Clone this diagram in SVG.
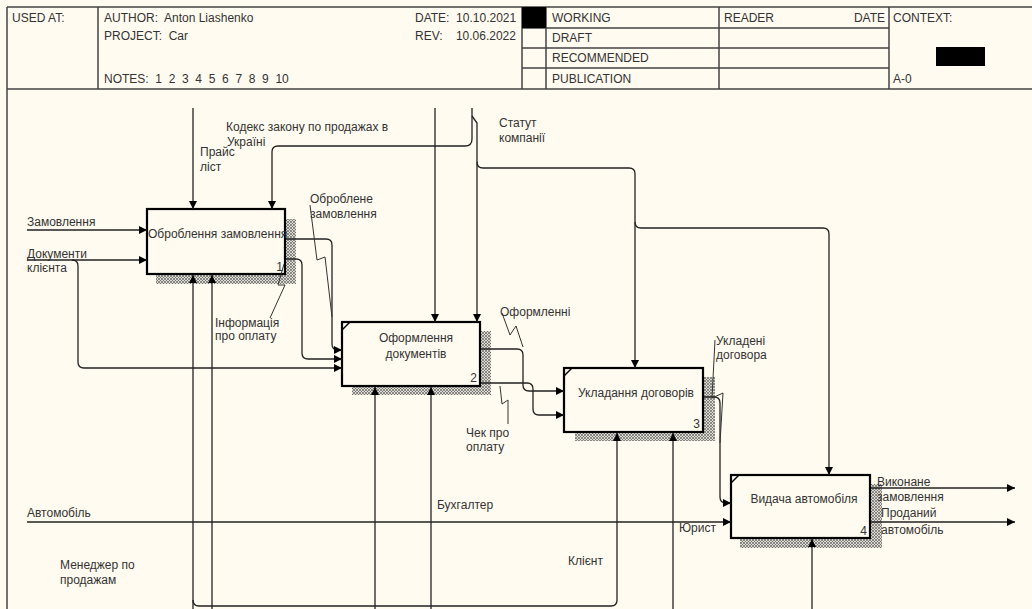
<svg xmlns="http://www.w3.org/2000/svg" width="1032" height="609" viewBox="0 0 1032 609">
<style>
.t{font-family:"Liberation Sans",Arial,sans-serif;font-size:12px;fill:#333}
.hl{fill:none;stroke:#444;stroke-width:1.5}
.box{fill:#fffbf0;stroke:#000;stroke-width:2.2}
.arr{fill:none;stroke:#222;stroke-width:1.3;marker-end:url(#ah)}
.sq{fill:none;stroke:#333;stroke-width:1}
.sh{fill:url(#hatch);stroke:none}
.mk{fill:none;stroke:#000;stroke-width:1.5}
</style>
<defs>
<marker id="ah" markerWidth="9" markerHeight="8" refX="8" refY="4" orient="auto" markerUnits="userSpaceOnUse">
<path d="M0,0 L8,4 L0,8 z" fill="#000"/>
</marker>
<pattern id="hatch" width="3" height="3" patternUnits="userSpaceOnUse">
<rect width="3" height="3" fill="#dedbd2"/>
<path d="M0,3 L3,0 M0,0 L3,3" stroke="#666" stroke-width="0.7"/>
</pattern>
</defs>
<rect x="0" y="0" width="1032" height="609" fill="#fffbf0"/>

<g id="header">
<path class="hl" d="M7,7 H1032 M7,89 H1032 M7,7 V609 M98,7 V89 M522,7 V89 M546,7 V89 M719,7 V89 M889,7 V89 M522,28 H889 M522,48 H889 M522,68 H889"/>
<rect x="522" y="7" width="24" height="21" fill="#000"/>
<rect x="936" y="47" width="49" height="19" fill="#000"/>
<text class="t" x="12" y="22">USED AT:</text>
<text class="t" x="104" y="22" xml:space="preserve">AUTHOR:  Anton Liashenko</text>
<text class="t" x="104" y="40" xml:space="preserve">PROJECT:  Car</text>
<text class="t" x="104" y="83" xml:space="preserve">NOTES:  1  2  3  4  5  6  7  8  9  10</text>
<text class="t" x="415" y="22" xml:space="preserve">DATE:  10.10.2021</text>
<text class="t" x="415" y="40" xml:space="preserve">REV:    10.06.2022</text>
<text class="t" x="552" y="22">WORKING</text>
<text class="t" x="552" y="42">DRAFT</text>
<text class="t" x="552" y="62">RECOMMENDED</text>
<text class="t" x="552" y="83">PUBLICATION</text>
<text class="t" x="724" y="22">READER</text>
<text class="t" x="885" y="22" text-anchor="end">DATE</text>
<text class="t" x="893" y="22">CONTEXT:</text>
<text class="t" x="893" y="83">A-0</text>
</g>

<g id="box1">
<path class="sh" d="M285,219 H296 V284 H156 V274 H285 Z"/>
<rect class="box" x="147" y="209" width="138" height="65"/>
<text class="t" x="148" y="238">Оброблення замовлення</text>
<text class="t" x="283" y="271" text-anchor="end">1</text>
</g>

<g id="box2">
<path class="sh" d="M480,331 H491 V395 H352 V386 H480 Z"/>
<rect class="box" x="342" y="322" width="138" height="64"/>
<path class="mk" d="M342,330 L350,322"/>
<text class="t" x="416" y="342" text-anchor="middle">Оформлення</text>
<text class="t" x="416" y="358" text-anchor="middle">документів</text>
<text class="t" x="477" y="382" text-anchor="end">2</text>
</g>

<g id="box3">
<path class="sh" d="M703,377 H715 V441 H575 V432 H703 Z"/>
<rect class="box" x="564" y="368" width="139" height="64"/>
<path class="mk" d="M564,376 L572,368"/>
<text class="t" x="636" y="397" text-anchor="middle">Укладання договорів</text>
<text class="t" x="700" y="428" text-anchor="end">3</text>
</g>

<g id="box4">
<path class="sh" d="M870,484 H882 V548 H740 V538 H870 Z"/>
<rect class="box" x="731" y="475" width="139" height="63"/>
<path class="mk" d="M731,483 L739,475"/>
<text class="t" x="804" y="503" text-anchor="middle">Видача автомобіля</text>
<text class="t" x="867" y="535" text-anchor="end">4</text>
</g>

<g id="connectors">
<path class="arr" d="M27,230 H147"/>
<path class="arr" d="M27,260 H147"/>
<path class="arr" d="M72,260 Q78,260 78,266 V362 Q78,368 84,368 H342"/>
<path class="arr" d="M193,108 V209"/>
<path class="arr" d="M472,108 V139 Q472,146 465,146 H278 Q272,146 272,152 V209"/>
<path class="arr" d="M435,108 V322"/>
<path class="arr" d="M472,116 L477,123 V322"/>
<path class="arr" d="M477,162 Q477,168 483,168 H629 Q635,168 635,174 V368"/>
<path class="arr" d="M635,222 Q635,228 641,228 H823 Q829,228 829,234 V475"/>
<path class="arr" d="M286,239 H326 Q332,239 332,245 V344 Q332,350 338,350 H342"/>
<path class="arr" d="M286,259 H296 Q302,259 302,265 V353 Q302,359 308,359 H342"/>
<path class="arr" d="M481,349 H517 Q523,349 523,355 V385 Q523,391 529,391 H564"/>
<path class="arr" d="M481,383 H527 Q533,383 533,389 V409 Q533,415 539,415 H564"/>
<path class="arr" d="M704,397 H714 Q720,397 720,403 V497 Q720,503 726,503 H731"/>
<path class="arr" d="M27,522 H731"/>
<path class="arr" d="M871,488 H1015"/>
<path class="arr" d="M871,522 H1015"/>
<path class="arr" d="M193,609 V275"/>
<path class="arr" d="M193,600 Q193,606 199,606 H611 Q617,606 617,600 V433"/>
<path class="arr" d="M212,609 V275"/>
<path class="arr" d="M375,609 V387"/>
<path class="arr" d="M431,609 V387"/>
<path class="arr" d="M673,609 V433"/>
<path class="arr" d="M812,609 V539"/>
<path class="sq" d="M310,205 L317,260 L325,257 L332,317"/>
<path class="sq" d="M284,264 L278,285 L285,285 L270,318"/>
<path class="sq" d="M502,313 L510,335 L516,326 L523,347"/>
<path class="sq" d="M500,386 L502,404 L508,400 L508,424"/>
<path class="sq" d="M715,340 L712,398 L723,393 L720,443"/>
</g>

<g id="labels">
<text class="t" x="226" y="131">Кодекс закону по продажах в</text>
<text class="t" x="227" y="146">Україні</text>
<text class="t" x="200" y="156">Прайс</text>
<text class="t" x="200" y="171">ліст</text>
<text class="t" x="499" y="127">Статут</text>
<text class="t" x="499" y="142">компанії</text>
<text class="t" x="310" y="203">Оброблене</text>
<text class="t" x="310" y="218">замовлення</text>
<text class="t" x="27" y="226">Замовлення</text>
<text class="t" x="27" y="258">Документи</text>
<text class="t" x="27" y="272">клієнта</text>
<text class="t" x="215" y="327">Інформація</text>
<text class="t" x="215" y="340">про оплату</text>
<text class="t" x="500" y="316">Оформленні</text>
<text class="t" x="466" y="437">Чек про</text>
<text class="t" x="466" y="451">оплату</text>
<text class="t" x="716" y="345">Укладені</text>
<text class="t" x="716" y="359">договора</text>
<text class="t" x="877" y="486">Виконане</text>
<text class="t" x="877" y="501">замовлення</text>
<text class="t" x="881" y="517">Проданий</text>
<text class="t" x="881" y="534">автомобіль</text>
<text class="t" x="27" y="517">Автомобіль</text>
<text class="t" x="60" y="569">Менеджер по</text>
<text class="t" x="60" y="584">продажам</text>
<text class="t" x="437" y="509">Бухгалтер</text>
<text class="t" x="568" y="565">Клієнт</text>
<text class="t" x="679" y="532">Юрист</text>
</g>
</svg>
